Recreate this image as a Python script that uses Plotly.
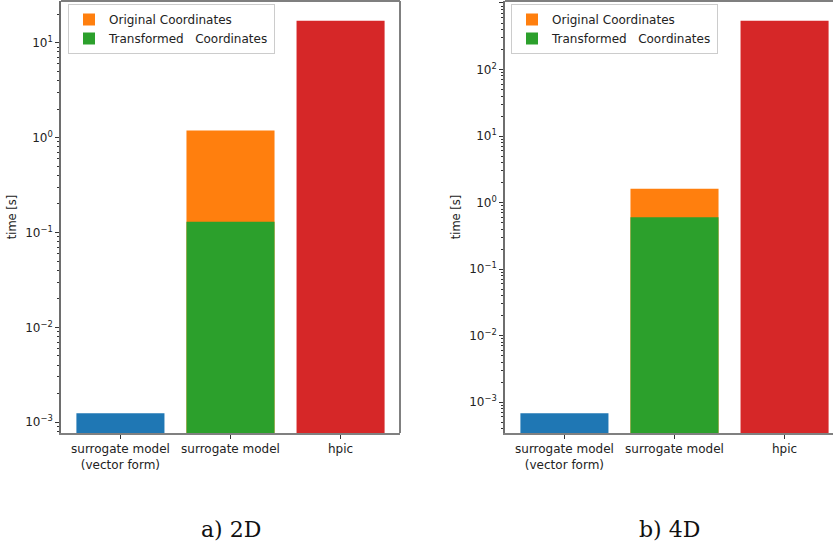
import numpy as np
import plotly.graph_objects as go

# Run times per method (seconds)
categories = ["surrogate model<br>(vector form)", "surrogate model", "hpic"]
case_names = ["a) 2D", "b) 4D"]

vector_form_2d = [0.00124]
original_2d = [1.19]
transformed_2d = [0.13]
hpic_2d = [17.1]

vector_form_4d = [0.00068]
original_4d = [1.62]
transformed_4d = [0.60]
hpic_4d = [543.0]

BLUE, ORANGE, GREEN, RED = "#1f77b4", "#ff7f0e", "#2ca02c", "#d62728"
TICK_FONT = dict(family="DejaVu Sans", size=12, color="#222222")

W, H = 833, 546
dom_left = [61 / W, 400 / W]
dom_right = [505 / W, 1.0]
dom_y = [1 - 433 / H, 1 - 1 / H]

fig = go.Figure()

cases = [
    (vector_form_2d, original_2d, transformed_2d, hpic_2d, "x", "y", "legend"),
    (vector_form_4d, original_4d, transformed_4d, hpic_4d, "x2", "y2", "legend2"),
]

for vec, orig, trans, hp, xa, ya, lg in cases:
    fig.add_trace(go.Bar(x=[0], y=vec, width=0.8, marker=dict(color=BLUE, line_width=0),
                         showlegend=False, xaxis=xa, yaxis=ya))
    fig.add_trace(go.Bar(x=[1], y=orig, width=0.8, marker=dict(color=ORANGE, line_width=0),
                         name="Original Coordinates", legend=lg, xaxis=xa, yaxis=ya))
    fig.add_trace(go.Bar(x=[1], y=trans, width=0.8, marker=dict(color=GREEN, line_width=0),
                         name="Transformed\u00a0\u00a0\u00a0Coordinates", legend=lg,
                         xaxis=xa, yaxis=ya))
    fig.add_trace(go.Bar(x=[2], y=hp, width=0.8, marker=dict(color=RED, line_width=0),
                         showlegend=False, xaxis=xa, yaxis=ya))


def log_range(values):
    lo, hi = np.log10(min(values)), np.log10(max(values))
    pad = 0.05 * (hi - lo)
    return [lo - pad, hi + pad]


def sup(e):
    return "10<sup>" + (("\u2212" + str(-e)) if e < 0 else str(e)) + "</sup>"


def yaxis_cfg(rng, anchor):
    majors = list(range(int(np.floor(rng[0])), int(np.ceil(rng[1])) + 1))
    minors = [m * 10.0 ** e for e in range(majors[0] - 1, majors[-1] + 1) for m in range(2, 10)]
    return dict(
        type="log", range=rng, domain=dom_y, anchor=anchor,
        tickvals=[10.0 ** e for e in majors], ticktext=[sup(e) for e in majors],
        ticks="outside", ticklen=4, tickwidth=1, tickcolor="#333333",
        minor=dict(tickvals=minors, ticks="outside", ticklen=2, tickwidth=0.8,
                   tickcolor="#333333", showgrid=False),
        showgrid=False, zeroline=False, showline=True, linecolor="#6e6e6e", linewidth=1.6,
        tickfont=TICK_FONT,
        title=dict(text="time [s]", font=dict(family="DejaVu Sans", size=11.5, color="#222222"),
                   standoff=6),
    )


xr_left = [-0.54, 2.54]
px_per_unit = (dom_left[1] - dom_left[0]) * W / (xr_left[1] - xr_left[0])
xr_right = [-0.54, -0.54 + (dom_right[1] - dom_right[0]) * W / px_per_unit]

xcommon = dict(
    tickmode="array", tickvals=[0, 1, 2], ticktext=categories,
    ticks="outside", ticklen=4, tickwidth=1, tickcolor="#333333",
    showgrid=False, zeroline=False, showline=True, linecolor="#808080", linewidth=2,
    tickfont=TICK_FONT,
)

LEGEND_STYLE = dict(xanchor="left", yanchor="top",
                    bgcolor="rgba(255,255,255,0.8)", bordercolor="#cccccc", borderwidth=1,
                    font=dict(family="DejaVu Sans", size=12, color="#222222"),
                    tracegroupgap=0, itemwidth=30)

fig.update_layout(
    width=W, height=H,
    margin=dict(l=0, r=0, t=0, b=0),
    paper_bgcolor="white", plot_bgcolor="white",
    barmode="overlay",
    xaxis=dict(domain=dom_left, range=xr_left, anchor="y", **xcommon),
    xaxis2=dict(domain=dom_right, range=xr_right, anchor="y2", **xcommon),
    yaxis=yaxis_cfg(log_range(vector_form_2d + original_2d + transformed_2d + hpic_2d), "x"),
    yaxis2=yaxis_cfg(log_range(vector_form_4d + original_4d + transformed_4d + hpic_4d), "x2"),
    legend=dict(x=68 / W, y=1 - 4 / H, **LEGEND_STYLE),
    legend2=dict(x=511 / W, y=1 - 4 / H, **LEGEND_STYLE),
    showlegend=True,
)

# top spine (black) for both panels, right spine (gray) for the left panel
fig.add_shape(type="line", xref="paper", yref="paper", x0=dom_left[0], x1=dom_left[1],
              y0=dom_y[1], y1=dom_y[1], line=dict(color="black", width=1.2))
fig.add_shape(type="line", xref="paper", yref="paper", x0=dom_left[1], x1=dom_left[1],
              y0=dom_y[0], y1=dom_y[1], line=dict(color="#808080", width=2))
fig.add_shape(type="line", xref="paper", yref="paper", x0=dom_right[0], x1=dom_right[1],
              y0=dom_y[1], y1=dom_y[1], line=dict(color="black", width=1.2))

# panel captions
for name, dom in zip(case_names, [dom_left, dom_right]):
    fig.add_annotation(text=name, xref="paper", yref="paper",
                       x=(dom[0] + dom[1]) / 2, y=1 - 529 / H,
                       xanchor="center", yanchor="middle", showarrow=False,
                       font=dict(family="DejaVu Serif", size=22, color="#111111"))

fig.write_html("out.html")
